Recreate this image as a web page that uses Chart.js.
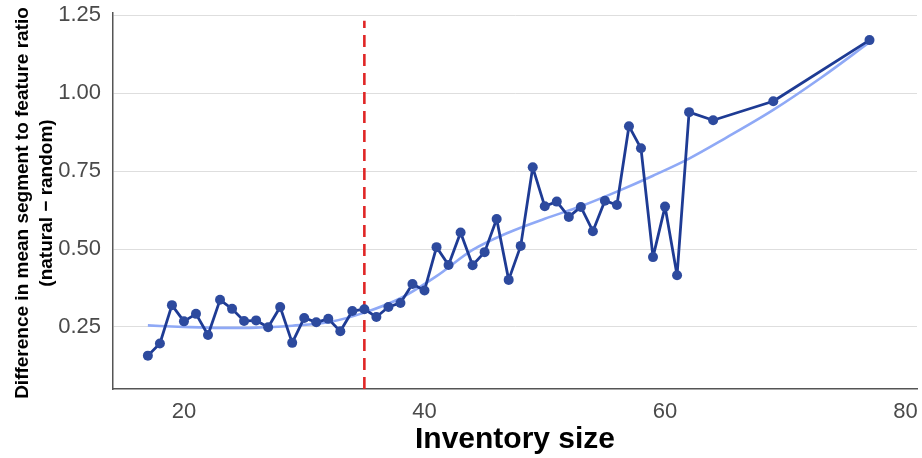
<!DOCTYPE html>
<html>
<head>
<meta charset="utf-8">
<script src="https://cdn.jsdelivr.net/npm/chart.js@4/dist/chart.umd.min.js"></script>
<style>
  html, body { margin: 0; padding: 0; background: #ffffff; }
  #wrap { width: 922px; height: 458px; }
</style>
</head>
<body>
<div id="wrap"><canvas id="c" width="922" height="458"></canvas></div>
<script>
// Inventory sizes and the observed difference (natural - random)
const sizes = [17, 18, 19, 20, 21, 22, 23, 24, 25, 26, 27, 28, 29, 30, 31, 32, 33, 34, 35, 36, 37, 38, 39, 40,
               41, 42, 43, 44, 45, 46, 47, 48, 49, 50, 51, 52, 53, 54, 55, 56, 57, 58, 59, 60, 61, 62, 64, 69, 77];
const differences = [0.158, 0.197, 0.320, 0.268, 0.292, 0.224, 0.337, 0.308, 0.269, 0.271, 0.249, 0.314, 0.199,
                     0.279, 0.265, 0.276, 0.236, 0.301, 0.307, 0.282, 0.314, 0.327, 0.388, 0.367, 0.506, 0.449,
                     0.553, 0.448, 0.490, 0.596, 0.401, 0.510, 0.762, 0.637, 0.652, 0.603, 0.635, 0.557, 0.655,
                     0.641, 0.894, 0.823, 0.474, 0.636, 0.416, 0.939, 0.913, 0.974, 1.170];

// Smoothed trend
const trendSizes = [17, 20, 23, 26, 29, 32, 35, 38, 41, 44, 47, 50, 53, 56, 59, 62, 65, 69, 73, 77];
const trendValues = [0.255, 0.250, 0.247, 0.248, 0.254, 0.265, 0.296, 0.342, 0.413, 0.497, 0.553, 0.597,
                     0.637, 0.684, 0.735, 0.790, 0.855, 0.946, 1.050, 1.163];

// Reference threshold
const thresholdSize = 35;

const xTicks = [20, 40, 60, 80];
const yTicks = [0.25, 0.50, 0.75, 1.00, 1.25];

const xLabel = 'Inventory size';
const yLabel = ['Difference in mean segment to feature ratio', '(natural \u2212 random)'];

const X_MIN = 14.1, X_MAX = 80.95;
const Y_MIN = 0.051, Y_MAX = 1.257;

const toPoints = (xs, ys) => xs.map((x, i) => ({ x: x, y: ys[i] }));

const axisTitles = {
  id: 'axisTitles',
  afterDraw(chart) {
    const { ctx, chartArea } = chart;
    ctx.save();
    ctx.fillStyle = '#000000';
    ctx.textAlign = 'center';
    ctx.textBaseline = 'middle';
    ctx.font = 'bold 30px "Liberation Sans", Arial, sans-serif';
    ctx.fillText(xLabel, (chartArea.left + chartArea.right) / 2, 440);
    const cy = (chartArea.top + chartArea.bottom) / 2 + 2;
    ctx.font = 'bold 19px "Liberation Sans", Arial, sans-serif';
    ctx.translate(23, cy);
    ctx.rotate(-Math.PI / 2);
    ctx.fillText(yLabel[0], 0, 0);
    ctx.fillText(yLabel[1], 0, 24);
    ctx.restore();
  }
};

new Chart(document.getElementById('c'), {
  type: 'line',
  data: {
    datasets: [
      {
        label: 'threshold',
        data: [{ x: thresholdSize, y: Y_MIN }, { x: thresholdSize, y: 1.232 }],
        borderColor: '#e02626',
        borderWidth: 2.6,
        borderDash: [12, 7],
        pointRadius: 0,
        order: 3
      },
      {
        label: 'trend',
        data: toPoints(trendSizes, trendValues),
        borderColor: '#8fa9f6',
        borderWidth: 2.6,
        cubicInterpolationMode: 'monotone',
        pointRadius: 0,
        order: 2
      },
      {
        label: 'difference',
        data: toPoints(sizes, differences),
        borderColor: '#1e3b94',
        borderWidth: 2.8,
        borderJoinStyle: 'round',
        tension: 0,
        pointRadius: 5,
        pointBackgroundColor: '#2d4a9e',
        pointBorderWidth: 0,
        order: 1
      }
    ]
  },
  options: {
    responsive: false,
    animation: false,
    devicePixelRatio: 1,
    layout: { padding: { top: 13, right: 4, left: 0, bottom: 0 } },
    plugins: { legend: { display: false }, tooltip: { enabled: false } },
    scales: {
      x: {
        type: 'linear',
        min: X_MIN,
        max: X_MAX,
        afterBuildTicks: s => { s.ticks = xTicks.map(v => ({ value: v })); },
        afterFit: s => { s.height = 69; s.paddingLeft = 0; s.paddingRight = 0; },
        grid: { display: false, drawTicks: false },
        border: { display: true, color: '#555555', width: 1.5 },
        ticks: {
          padding: 10,
          color: '#4a4a4a',
          font: { size: 22, family: '"Liberation Sans", Arial, sans-serif' },
          maxRotation: 0,
          callback: v => String(v)
        }
      },
      y: {
        type: 'linear',
        min: Y_MIN,
        max: Y_MAX,
        afterBuildTicks: s => { s.ticks = yTicks.map(v => ({ value: v })); },
        afterFit: s => { s.width = 113; s.paddingTop = 0; s.paddingBottom = 0; },
        grid: { color: '#dedede', lineWidth: 1, drawTicks: false },
        border: { display: true, color: '#555555', width: 1.5 },
        ticks: {
          padding: 12,
          color: '#4a4a4a',
          font: { size: 22, family: '"Liberation Sans", Arial, sans-serif' },
          callback: v => v.toFixed(2)
        }
      }
    }
  },
  plugins: [axisTitles]
});
</script>
</body>
</html>
